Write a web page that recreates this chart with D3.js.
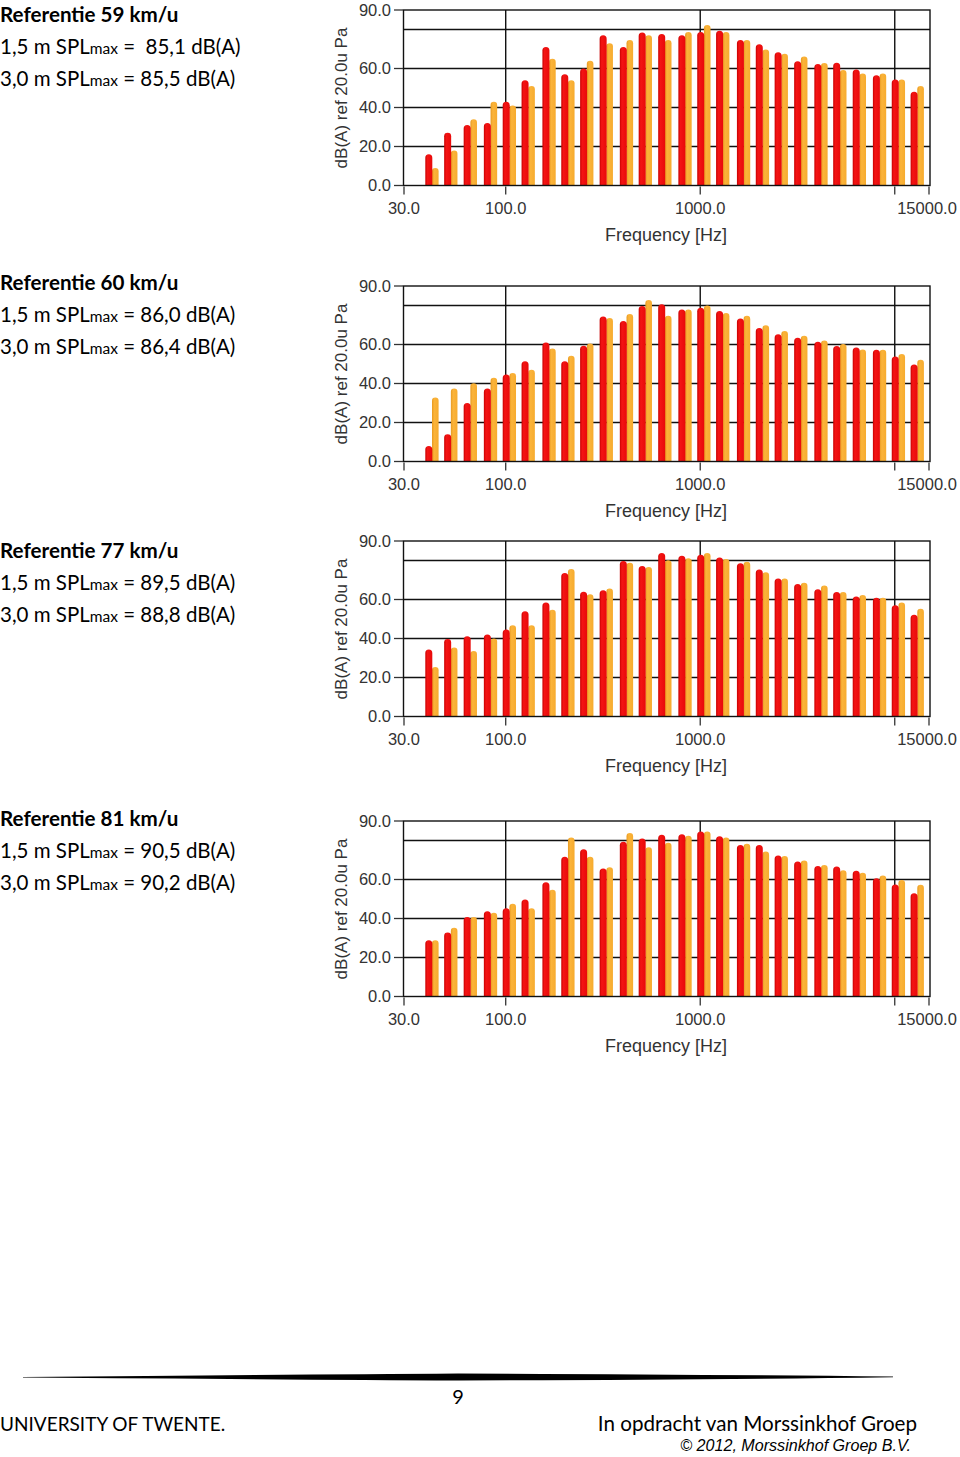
<!DOCTYPE html>
<html><head><meta charset="utf-8">
<script src="https://cdn.jsdelivr.net/npm/d3@7"></script>
<style>
html,body{margin:0;padding:0;background:#fff;}
svg{display:block;}
text{white-space:pre;}
</style></head>
<body>
<svg id="c" width="960" height="1457"></svg>
<script>
// ---- data ----
const freqs = [40,50,63,80,100,125,160,200,250,315,400,500,630,800,1000,1250,1600,2000,2500,3150,4000,5000,6300,8000,10000,12500];
const titles = ["Referentie 59 km/u","Referentie 60 km/u","Referentie 77 km/u","Referentie 81 km/u"];
const spl15 = [" 85,1","86,0","89,5","90,5"];
const spl30 = ["85,5","86,4","88,8","90,2"];
const ref59_15 = [16,27,31,32,43,54,71,57,60,77,71,78.5,77.7,77,78.7,79.4,74.6,72.4,68.3,63.7,62.3,63,59.5,56.6,54.4,48.1];
const ref59_30 = [9,18,34,43,41,51,65,54,64,73,74.6,77,74.6,78.7,82.3,78.7,74.6,69.8,67.6,66.2,62.8,59.2,57.5,57.5,54.4,51];
const ref60_15 = [8,14,30,37.4,44.6,51.4,61,51.4,59.3,74.3,72.1,79.7,80.6,77.9,78.8,77.2,73.3,68.4,65.3,63.5,61.4,59.2,58.4,57.3,53.9,49.8];
const ref60_30 = [32.8,37.4,40.1,43,45.4,47,57.9,54.3,60.5,73.6,75.6,82.8,74.7,77.9,80,76.2,74.7,69.9,66.9,64.5,62.1,60.2,57.5,57.3,55.1,52.2];
const ref77_15 = [34.3,39.8,41.2,42,44.6,54,58.4,73.6,64,64.7,79.7,77.2,83.9,82.5,82.9,81.5,78.6,75.4,70.8,67.9,65.3,63.8,61.6,60.9,57,52.2];
const ref77_30 = [25.4,35.4,33.6,40,46.8,46.8,54.8,75.6,62.7,65.6,78.9,76.7,80.1,81.2,83.9,80.8,79.4,74,70.8,68.6,67.2,63.8,62.3,60.9,58.4,55.3];
const ref81_15 = [28.9,32.8,40.8,43.7,45.3,49.7,58.6,71.7,75.5,65.6,79.4,81,82.9,83.2,84.6,82.2,77.7,77.7,72.3,69.2,66.9,66.7,64.5,60.6,57.5,52.9];
const ref81_30 = [28.9,35.2,40.8,42.9,47.6,45.3,54.8,81.5,71.7,66.3,83.8,76.5,78.9,82.5,84.6,81.5,78.4,74.3,72,69.8,67.5,64.8,63.5,62.1,59.7,57.3];
const yTicks = [0,20,40,60,90];
const yGrid = [20,40,60,80];
const xTicks = [30,100,1000,10000,15000];
const xTickLabels = ["30.0","100.0","1000.0","","15000.0"];
const xGrid = [100,1000,10000];
const yLabel = "dB(A) ref 20.0u Pa";
const xLabel = "Frequency [Hz]";

const panels = [
  {title:titles[0], a:spl15[0], b:spl30[0], s15:ref59_15, s30:ref59_30},
  {title:titles[1], a:spl15[1], b:spl30[1], s15:ref60_15, s30:ref60_30},
  {title:titles[2], a:spl15[2], b:spl30[2], s15:ref77_15, s30:ref77_30},
  {title:titles[3], a:spl15[3], b:spl30[3], s15:ref81_15, s30:ref81_30}
];
const plotTops = [10,286,541,821];
const textTops = [15,283,551,819];

const svg = d3.select("#c");
const defs = svg.append("defs");
function grad(id, stops){
  const g = defs.append("linearGradient").attr("id",id).attr("x1","0").attr("x2","1").attr("y1","0").attr("y2","0");
  stops.forEach(s=>g.append("stop").attr("offset",s[0]).attr("stop-color",s[1]));
}
grad("gr",[[0,"#c80000"],[0.3,"#f41414"],[1,"#e80a0a"]]);
grad("go",[[0,"#e89a20"],[0.35,"#fbb43a"],[1,"#f6ab2e"]]);

const textFont = "Lato, 'Open Sans', sans-serif";
const axFont = "'Liberation Sans', Arial, sans-serif";
const x = d3.scaleLog().domain([30,15000]).range([404,929]);

function barPath(cx, w, yTop, yBot){
  const r = w/2;
  const x0 = cx - r, x1 = cx + r;
  return `M${x0},${yBot}V${yTop+r}A${r},${r} 0 0 1 ${x1},${yTop+r}V${yBot}Z`;
}

panels.forEach((p,i)=>{
  const top = plotTops[i], h = 175.5, bot = top + h;
  const y = d3.scaleLinear().domain([0,90]).range([bot, top]);
  const g = svg.append("g");

  // left texts
  const tt = textTops[i];
  g.append("text").attr("x",0).attr("y",tt+7).attr("font-family",textFont).attr("font-weight","bold").attr("font-size",20.6).attr("fill","#000").text(p.title);
  [[ "1,5 m SPL", p.a],["3,0 m SPL", p.b]].forEach((l,k)=>{
    const t = g.append("text").attr("x",0).attr("y",tt+39+32*k).attr("font-family",textFont).attr("font-size",20.5).attr("fill","#000");
    t.append("tspan").text(l[0]);
    t.append("tspan").attr("font-size",15.5).text("max");
    t.append("tspan").text(" = " + l[1] + " dB(A)");
  });

  // grid
  g.selectAll(".hg").data(yGrid).join("line")
    .attr("x1",403).attr("x2",930).attr("y1",d=>y(d)).attr("y2",d=>y(d))
    .attr("stroke","#111").attr("stroke-width",1.4);
  g.selectAll(".vg").data(xGrid).join("line")
    .attr("x1",d=>x(d)).attr("x2",d=>x(d)).attr("y1",top).attr("y2",bot)
    .attr("stroke","#111").attr("stroke-width",1.4);

  // bars
  const data = freqs.map((f,j)=>({f, a:p.s15[j], b:p.s30[j]}));
  g.selectAll(".bo").data(data).join("path")
    .attr("d",d=>barPath(x(d.f)+7, 6.6, y(d.b), bot))
    .attr("fill","url(#go)");
  g.selectAll(".br").data(data).join("path")
    .attr("d",d=>barPath(x(d.f)+0.5, 7, y(d.a), bot))
    .attr("fill","url(#gr)");

  // frame
  g.append("rect").attr("x",403.5).attr("y",top).attr("width",526.5).attr("height",h)
    .attr("fill","none").attr("stroke","#111").attr("stroke-width",1.4);

  // y axis ticks
  g.selectAll(".yt").data(yTicks).join("line")
    .attr("x1",394).attr("x2",403).attr("y1",d=>y(d)).attr("y2",d=>y(d))
    .attr("stroke","#333").attr("stroke-width",1.3);
  g.selectAll(".ytl").data(yTicks).join("text")
    .attr("x",391).attr("y",d=>y(d)).attr("dy","0.36em").attr("text-anchor","end")
    .attr("font-family",axFont).attr("font-size",16.5).attr("fill","#333")
    .text(d=>d3.format(".1f")(d));
  // x axis ticks
  g.selectAll(".xt").data(xTicks).join("line")
    .attr("x1",d=>x(d)).attr("x2",d=>x(d)).attr("y1",bot+1).attr("y2",bot+9)
    .attr("stroke","#333").attr("stroke-width",1.3);
  g.selectAll(".xtl").data(xTicks).join("text")
    .attr("x",(d,j)=>x(d)-(j===4?2:0)).attr("y",bot+23).attr("dy","0.36em").attr("text-anchor","middle")
    .attr("font-family",axFont).attr("font-size",16.5).attr("fill","#333")
    .text((d,j)=>xTickLabels[j]);
  // axis labels
  g.append("text").attr("x",666).attr("y",bot+49).attr("dy","0.36em").attr("text-anchor","middle")
    .attr("font-family",axFont).attr("font-size",18).attr("fill","#333").text(xLabel);
  g.append("text").attr("transform",`translate(341,${top+88}) rotate(-90)`).attr("dy","0.36em").attr("text-anchor","middle")
    .attr("font-family",axFont).attr("font-size",17).attr("fill","#333").text(yLabel);
});

// footer
svg.append("path")
  .attr("d","M23,1377 Q300,1374.5 458,1373.5 Q700,1374.5 893,1376.5 L893,1377.3 Q700,1380 458,1380.5 Q300,1379.5 23,1377.6 Z")
  .attr("fill","#000");
svg.append("text").attr("x",458).attr("y",1397).attr("dy","0.36em").attr("text-anchor","middle")
  .attr("font-family",textFont).attr("font-size",20).text("9");
svg.append("text").attr("x",0).attr("y",1424).attr("dy","0.36em")
  .attr("font-family",textFont).attr("font-size",19).text("UNIVERSITY OF TWENTE.");
svg.append("text").attr("x",917).attr("y",1424).attr("dy","0.36em").attr("text-anchor","end")
  .attr("font-family",textFont).attr("font-size",20.6).text("In opdracht van Morssinkhof Groep");
svg.append("text").attr("x",911).attr("y",1445).attr("dy","0.36em").attr("text-anchor","end")
  .attr("font-family",axFont).attr("font-style","italic").attr("font-size",16.1).text("© 2012, Morssinkhof Groep B.V.");
</script>
</body></html>
